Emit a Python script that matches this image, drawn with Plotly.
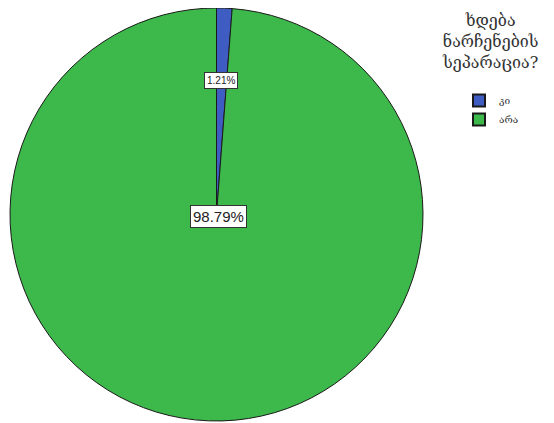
import plotly.graph_objects as go

categories = ["კი", "არა"]
values = [1.21, 98.79]
label_texts = ["1.21%", "98.79%"]
colors = ["#3e5cc2", "#3cb94a"]
legend_title = "ხდება<br>ნარჩენების<br>სეპარაცია?"

W, H = 546, 415  # page body has an 8px margin inside the 554x423 window

fig = go.Figure()
fig.add_trace(go.Pie(
    labels=categories,
    values=values,
    sort=False,
    direction="clockwise",
    rotation=0,
    marker=dict(colors=colors, line=dict(color="#1a1a1a", width=1)),
    textinfo="none",
    hoverinfo="label+percent",
    domain=dict(x=[2 / W, 415 / W], y=[2 / H, 1.0]),
))

# label boxes
fig.add_annotation(x=213 / W, y=1 - 64 / H, xref="paper", yref="paper",
                   text=label_texts[0], showarrow=False,
                   font=dict(family="Arial, Liberation Sans", size=10, color="#222"),
                   bgcolor="white", bordercolor="#333", borderwidth=1, borderpad=2)
fig.add_annotation(x=210 / W, y=1 - 208 / H, xref="paper", yref="paper",
                   text=label_texts[1], showarrow=False,
                   font=dict(family="Arial, Liberation Sans", size=15, color="#222"),
                   bgcolor="white", bordercolor="#333", borderwidth=1, borderpad=2)

# legend title (centred)
fig.add_annotation(x=482 / W, y=1 - 33 / H, xref="paper", yref="paper",
                   text=legend_title, showarrow=False, align="center",
                   xanchor="center", yanchor="middle",
                   font=dict(family="DejaVu Serif, Noto Sans", size=16, color="#333"))

fig.update_layout(
    width=W, height=H,
    margin=dict(l=0, r=0, t=0, b=0),
    paper_bgcolor="white",
    plot_bgcolor="white",
    showlegend=True,
    legend=dict(
        x=451 / W, y=1 - 78 / H, xanchor="left", yanchor="top",
        font=dict(family="DejaVu Serif, Noto Sans", size=10, color="#333"),
        itemsizing="constant",
        itemwidth=30,
        tracegroupgap=0,
    ),
)

fig.write_html("out.html")
